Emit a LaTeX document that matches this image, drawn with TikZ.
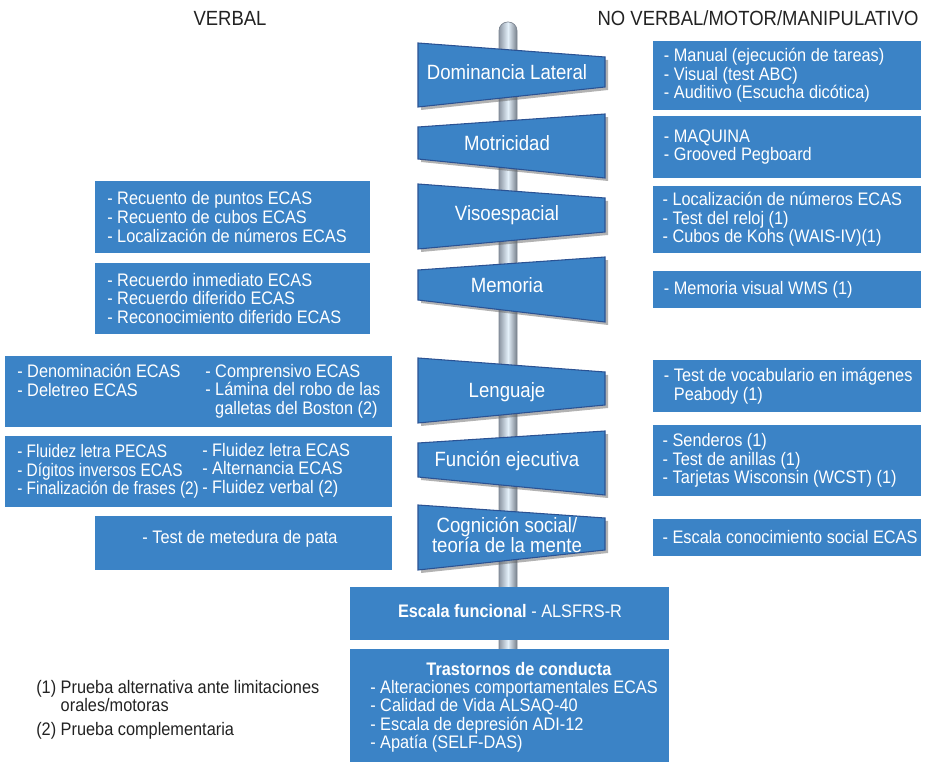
\documentclass[tikz,border=0pt]{standalone}
\usepackage{fontspec}
\setmainfont[FakeStretch=0.9]{Liberation Sans}
\newfontfamily\narrowfont[FakeStretch=0.85]{Liberation Sans}
\definecolor{boxblue}{HTML}{3B83C6}
\definecolor{signedge}{HTML}{2B5293}
\definecolor{darktxt}{HTML}{222222}
\definecolor{poleedge}{HTML}{8C96A3}
\definecolor{polemid}{HTML}{E4F0FA}
\begin{document}
\begin{tikzpicture}[x=0.75pt,y=-0.75pt,
  box/.style={fill=boxblue, draw=none, inner sep=0, outer sep=0},
  body/.style={text=white, font=\fontsize{13.6}{13.9}\selectfont, align=left, inner sep=0},
  signlabel/.style={text=white, font=\fontsize{15.5}{11.6}\selectfont, align=center, inner sep=0},
  signshape/.style={fill=boxblue, draw=signedge, line width=0.8pt, line join=miter},
  signshadow/.style={fill=black!60, opacity=0.5},
  heading/.style={text=darktxt, font=\fontsize{15.4}{15.4}\selectfont, inner sep=0},
  legend/.style={text=darktxt, font=\fontsize{13.6}{13.9}\selectfont, align=left, inner sep=0, anchor=west}]
\useasboundingbox (0,0) rectangle (932,762);
% pole
\shade[left color=poleedge, right color=poleedge!85!black, middle color=polemid, rounded corners=6.5pt]
  (499,660) -- (499,22) -- (517,22) -- (517,660) -- cycle;
\draw[poleedge!90!black, line width=0.5pt, rounded corners=6.5pt]
  (499,660) -- (499,22) -- (517,22) -- (517,660);
% headings
\node[heading] (hv) at (230,18) {VERBAL};
\node[heading] (hnv) at (758,18) {NO VERBAL/MOTOR/MANIPULATIVO};
% signs
\foreach \a/\b/\c/\d in {43/57/87/107, 127/114/178/159, 184/198/232/249, 270/257/322/300,
  358/372/405/423, 443/431/495/477, 505/518/550/570}{
  \fill[signshadow] (421,\a+3) -- (608,\b+3) -- (608,\c+3) -- (421,\d+3) -- cycle;
  \draw[signshape] (418,\a) -- (605,\b) -- (605,\c) -- (418,\d) -- cycle;
}
\node[signlabel] (s1) at (507,72) {Dominancia Lateral};
\node[signlabel] (s2) at (507,143) {Motricidad};
\node[signlabel] (s3) at (507,215) {Visoespacial};
\node[signlabel] (s4) at (507,285) {Memoria};
\node[signlabel] (s5) at (507,392) {Lenguaje};
\node[signlabel] (s6) at (507,461) {Función ejecutiva};
\node[signlabel] (s7) at (507,535) {Cognición social/\\teoría de la mente};
% right boxes
\node[box, minimum width=201pt, minimum height=51.75pt] (r1) at (787,75.5) {};
\node[box, minimum width=201pt, minimum height=46.5pt] (r2) at (787,147) {};
\node[box, minimum width=201pt, minimum height=50.25pt] (r3) at (787,219.5) {};
\node[box, minimum width=201pt, minimum height=27.75pt] (r4) at (787,289.5) {};
\node[box, minimum width=201pt, minimum height=39pt] (r5) at (787,386) {};
\node[box, minimum width=201pt, minimum height=53.25pt] (r6) at (787,460.5) {};
\node[box, minimum width=201pt, minimum height=27.75pt] (r7) at (787,537.5) {};
\node[body, anchor=west] (r1t) at ([xshift=8pt]r1.west) {- Manual (ejecución de tareas)\\- Visual (test ABC)\\- Auditivo (Escucha dicótica)};
\node[body, anchor=west] (r2t) at ([xshift=8pt]r2.west) {- MAQUINA\\- Grooved Pegboard};
\node[body, anchor=west] (r3t) at ([xshift=7pt]r3.west) {- Localización de números ECAS\\- Test del reloj (1)\\- Cubos de Kohs (WAIS-IV)(1)};
\node[body, anchor=west] (r4t) at ([xshift=8pt]r4.west) {- Memoria visual WMS (1)};
\node[body, anchor=west] (r5t) at ([xshift=8pt]r5.west) {- Test de vocabulario en imágenes\\\hphantom{- }Peabody (1)};
\node[body, anchor=west] (r6t) at ([xshift=7pt]r6.west) {- Senderos (1)\\- Test de anillas (1)\\- Tarjetas Wisconsin (WCST) (1)};
\node[body, anchor=west] (r7t) at ([xshift=7pt]r7.west) {- Escala conocimiento social ECAS};
% left boxes
\node[box, minimum width=206.25pt, minimum height=54pt] (l1) at (232.5,217) {};
\node[box, minimum width=206.25pt, minimum height=53.25pt] (l2) at (232.5,298.5) {};
\node[box, minimum width=290.25pt, minimum height=53.25pt] (l3) at (198.5,391.5) {};
\node[box, minimum width=290.25pt, minimum height=53.25pt] (l4) at (198.5,471.5) {};
\node[box, minimum width=222.75pt, minimum height=40.5pt] (l5) at (243.5,543) {};
\node[body, anchor=west] (l1t) at ([xshift=9pt]l1.west) {- Recuento de puntos ECAS\\- Recuento de cubos ECAS\\- Localización de números ECAS};
\node[body, anchor=west] (l2t) at ([xshift=9pt]l2.west) {- Recuerdo inmediato ECAS\\- Recuerdo diferido ECAS\\- Reconocimiento diferido ECAS};
\node[body, anchor=north west] (l3a) at (17,364) {- Denominación ECAS\\- Deletreo ECAS};
\node[body, anchor=north west] (l3b) at (205,364) {- Comprensivo ECAS\\- Lámina del robo de las\\\hphantom{- }galletas del Boston (2)};
\node[body, anchor=west, font=\narrowfont\fontsize{13.6}{13.9}\selectfont] (l4a) at ([xshift=9pt]l4.west) {- Fluidez letra PECAS\\- Dígitos inversos ECAS\\- Finalización de frases (2)};
\node[body, anchor=west] (l4b) at (202,470) {- Fluidez letra ECAS\\- Alternancia ECAS\\- Fluidez verbal (2)};
\node[body] (l5t) at (240,539) {- Test de metedura de pata};
% bottom boxes
\node[box, minimum width=239.25pt, minimum height=39.75pt] (b1) at (509.5,613.5) {};
\node[box, minimum width=239.25pt, minimum height=84.75pt] (b2) at (509.5,705.5) {};
\node[body] (b1t) at (510,611) {\textbf{Escala funcional} - ALSFRS-R};
\node[body] (b2h) at (519,669) {\textbf{Trastornos de conducta}};
\node[body, anchor=west] (b2t) at (370,716.5) {- Alteraciones comportamentales ECAS\\- Calidad de Vida ALSAQ-40\\- Escala de depresión ADI-12\\- Apatía (SELF-DAS)};
% legend
\node[legend] (lg1) at (36,696) {(1) Prueba alternativa ante limitaciones\\\hphantom{(1) }orales/motoras};
\node[legend] (lg2) at (36,731) {(2) Prueba complementaria};
\end{tikzpicture}
\end{document}
